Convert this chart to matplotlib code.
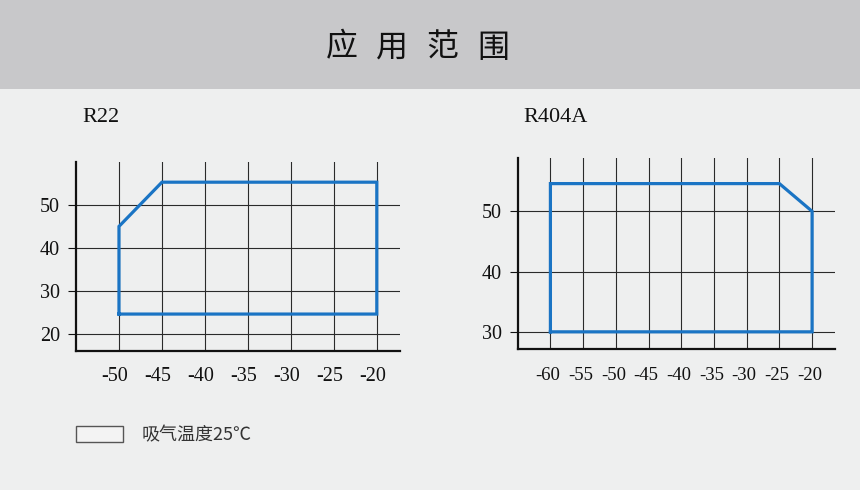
import matplotlib
matplotlib.use("Agg")
import matplotlib.pyplot as plt
from matplotlib.patches import Rectangle
from matplotlib.transforms import ScaledTranslation

# R22 envelope (evaporating temp, condensing temp)
r22_evap = [-50, -50, -45, -20, -20, -50]
r22_cond = [24.6, 45, 55.3, 55.3, 24.6, 24.6]
r22_xticks = [-50, -45, -40, -35, -30, -25, -20]
r22_yticks = [20, 30, 40, 50]

# R404A envelope
r404_evap = [-60, -60, -25, -20, -20, -60]
r404_cond = [30, 54.6, 54.6, 50, 30, 30]
r404_xticks = [-60, -55, -50, -45, -40, -35, -30, -25, -20]
r404_yticks = [30, 40, 50]

title_chars = ["应", "用", "范", "围"]
legend_label = "吸气温度25℃"

W, H = 860, 490
BG = "#eeefef"
BLUE = "#1a74c4"
SERIF = "Liberation Serif"


def px_axes(fig, left, top, right, bottom):
    return fig.add_axes([left / W, 1 - bottom / H, (right - left) / W, (bottom - top) / H])


def draw_chart(fig, ax, evap, cond, xticks, yticks, xlim, ylim, xpad, xsize, xshift):
    ax.set_facecolor("none")
    ax.set_xlim(*xlim)
    ax.set_ylim(*ylim)
    ax.set_xticks(xticks)
    ax.set_yticks(yticks)
    ax.set_xticklabels([str(t) for t in xticks], family=SERIF, fontsize=xsize)
    ax.set_yticklabels([str(t) for t in yticks], family=SERIF, fontsize=14.5)
    for s in ["top", "right"]:
        ax.spines[s].set_visible(False)
    for s in ["left", "bottom"]:
        ax.spines[s].set_linewidth(1.6)
        ax.spines[s].set_color("#111111")
    ax.grid(True, color="#2a2a2a", linewidth=0.8)
    ax.tick_params(axis="x", length=0, pad=xpad, colors="#111111")
    ax.tick_params(axis="y", length=6, width=0.8, direction="out", pad=5.5, colors="#111111")
    # labels sit a little left of their gridlines in the original
    shift = ScaledTranslation(xshift / 100, 0, fig.dpi_scale_trans)
    for lab in ax.get_xticklabels():
        lab.set_transform(lab.get_transform() + shift)
    ax.plot(evap, cond, color=BLUE, linewidth=2.3, solid_joinstyle="miter", zorder=3)


fig = plt.figure(figsize=(W / 100, H / 100), dpi=100)
fig.patch.set_facecolor(BG)

# top banner
fig.patches.append(Rectangle((0, 1 - 89 / H), 1, 89 / H, transform=fig.transFigure,
                             facecolor="#c8c8ca", edgecolor="none"))
for i, ch in enumerate(title_chars):
    fig.text((341.5 + i * 50.5) / W, 1 - 47.5 / H, ch, ha="center", va="center",
             fontsize=23, family=["Noto Sans CJK SC", "DejaVu Sans"], color="#111111")

ax1 = px_axes(fig, 76, 162, 400, 351)
draw_chart(fig, ax1, r22_evap, r22_cond, r22_xticks, r22_yticks,
           (-55, -17.3), (16, 60), 11.5, 14.5, -4)
fig.text(82 / W, 1 - 118 / H, "R22", family=SERIF, fontsize=16, va="center", color="#111111")

ax2 = px_axes(fig, 517.7, 158.3, 835, 348.7)
draw_chart(fig, ax2, r404_evap, r404_cond, r404_xticks, r404_yticks,
           (-65, -16.5), (27.2, 58.8), 13, 13.5, -2.5)
fig.text(523 / W, 1 - 118 / H, "R404A", family=SERIF, fontsize=16, va="center", color="#111111")

# legend box
fig.patches.append(Rectangle((76 / W, 1 - 442 / H), 47 / W, 16 / H, transform=fig.transFigure,
                             facecolor="#f3f3f3", edgecolor="#555555", linewidth=1))
fig.text(142 / W, 1 - 435 / H, legend_label, fontsize=13, va="center",
         family=["Noto Sans CJK SC", "DejaVu Sans"], color="#333333")

fig.savefig("out.png", dpi=100, facecolor=fig.get_facecolor())
